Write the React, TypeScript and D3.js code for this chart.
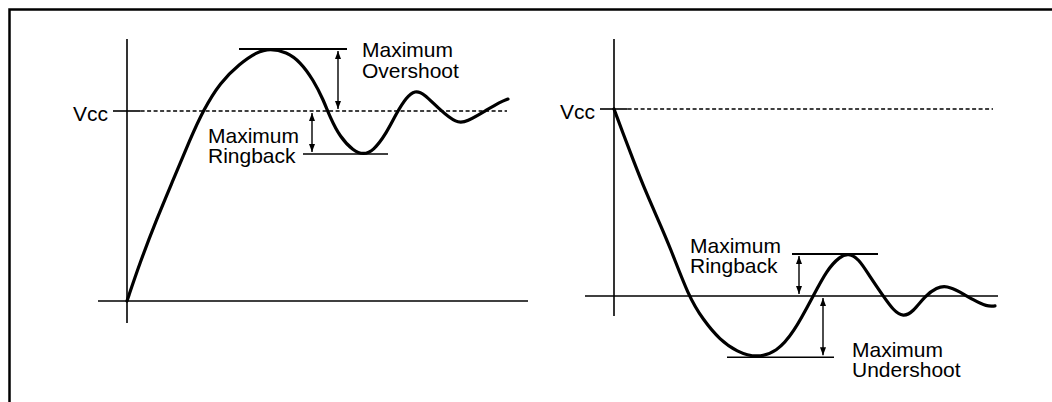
import { useEffect } from 'react';
import * as d3 from 'd3';

// Waveforms: [time, voltage normalised to Vcc]
const overshootWave: [number, number][] = [
  [0, 0], [3.2, 0.2], [7.4, 0.43], [11.6, 0.64], [15.75, 0.85], [19.1, 1.005],
  [23.25, 1.15], [28.25, 1.25], [32.4, 1.31], [35.75, 1.33], [39.9, 1.31],
  [43.25, 1.26], [46.6, 1.163], [49.1, 1.058], [50.75, 0.968], [53.25, 0.863],
  [56.6, 0.79], [59.1, 0.77], [61.6, 0.79], [64.9, 0.884], [67.4, 0.99],
  [69.9, 1.074], [72, 1.108], [74.1, 1.095], [78.25, 1.005], [82.4, 0.935],
  [84.9, 0.942], [89.9, 1.005], [93.25, 1.047], [95.25, 1.063],
];

const undershootWave: [number, number][] = [
  [0, 1], [2.3, 0.868], [4.8, 0.727], [7.75, 0.567], [10.7, 0.424], [14, 0.263],
  [18.6, 0], [22.3, -0.128], [26.5, -0.235], [30.7, -0.298], [35.7, -0.332],
  [40.7, -0.298], [44.8, -0.2], [49.8, 0], [53.2, 0.139], [56.5, 0.212],
  [58.6, 0.228], [61.1, 0.202], [64, 0.103], [67.3, 0], [69.8, -0.076],
  [72.3, -0.113], [74.8, -0.084], [77.75, 0], [80.7, 0.046], [83.2, 0.055],
  [86.5, 0.022], [89.8, -0.021], [93.2, -0.057], [95.25, -0.053],
];

// limit lines with their measuring arrows
const overshootMarks = [
  { level: 1.326, from: 28, to: 55, arrowT: 52.75, arrowTo: 1, width: 2 },
  { level: 0.774, from: 44, to: 65.25, arrowT: 46.25, arrowTo: 1, width: 1.5 },
];
const undershootMarks = [
  { level: 0.225, from: 44.5, to: 66, arrowT: 46.25, arrowTo: 0, width: 2 },
  { level: -0.328, from: 28.25, to: 55, arrowT: 52.25, arrowTo: 0, width: 1.5 },
];

const overshootLabels = [
  { lines: ['Maximum', 'Overshoot'], t: 58.75, v: 1.284 },
  { lines: ['Maximum', 'Ringback'], t: 20.25, v: 0.832 },
];
const undershootLabels = [
  { lines: ['Maximum', 'Ringback'], t: 19, v: 0.23 },
  { lines: ['Maximum', 'Undershoot'], t: 59.5, v: -0.326 },
];

const FONT = '"Liberation Sans", Arial, sans-serif';
const FS = 21;

interface PanelProps {
  wave: [number, number][];
  marks: typeof overshootMarks;
  labels: typeof overshootLabels;
  x0: number;
  yGnd: number;
  yVcc: number;
  axisTop: number;
  axisBottom: number;
  axisLeft: number;
  axisRight: number;
  dashEnd: number;
}

function Panel(p: PanelProps) {
  const x = d3.scaleLinear().domain([0, 100]).range([p.x0, p.x0 + 400]);
  const y = d3.scaleLinear().domain([0, 1]).range([p.yGnd, p.yVcc]);
  // basis smooths out reading noise in the traced points
  const line = d3.line<[number, number]>()
    .x(d => x(d[0]))
    .y(d => y(d[1]))
    .curve(d3.curveBasis);

  return (
    <g>
      {/* axes */}
      <line x1={x(0)} x2={x(0)} y1={p.axisTop} y2={p.axisBottom} stroke="#000" strokeWidth={1.6} />
      <line x1={p.axisLeft} x2={p.axisRight} y1={y(0)} y2={y(0)} stroke="#000" strokeWidth={1.6} />
      {/* Vcc */}
      <line x1={x(-3.5)} x2={x(3.4)} y1={y(1)} y2={y(1)} stroke="#000" strokeWidth={1.6} />
      <line x1={x(3.4)} x2={p.dashEnd} y1={y(1)} y2={y(1)} stroke="#000" strokeWidth={1.5} strokeDasharray="4,2.5" />
      <text x={x(-4.75)} y={y(1) + 10} textAnchor="end" fontSize={FS} fontFamily={FONT}>Vcc</text>

      <path d={line(p.wave) ?? ''} fill="none" stroke="#000" strokeWidth={3.2} strokeLinejoin="round" strokeLinecap="round" />

      {p.marks.map((m, i) => (
        <g key={i}>
          <line x1={x(m.from)} x2={x(m.to)} y1={y(m.level)} y2={y(m.level)} stroke="#000" strokeWidth={m.width} />
          <line x1={x(m.arrowT)} x2={x(m.arrowT)}
            y1={y(m.level) + (m.level > m.arrowTo ? 2 : -2)}
            y2={y(m.arrowTo) + (m.level > m.arrowTo ? -2 : 2)}
            stroke="#000" strokeWidth={1.4} markerStart="url(#ah)" markerEnd="url(#ah)" />
        </g>
      ))}

      {p.labels.map((l, i) =>
        l.lines.map((s, j) => (
          <text key={`${i}-${j}`} x={x(l.t)} y={y(l.v) + j * 20.5} fontSize={FS} fontFamily={FONT}>{s}</text>
        ))
      )}
    </g>
  );
}

export default function App() {
  useEffect(() => {
    document.body.style.margin = '0';
  }, []);

  return (
    <svg width={1052} height={402} style={{ display: 'block', background: '#fff' }}>
      <defs>
        <marker id="ah" viewBox="0 0 8 6" refX={8} refY={3} markerWidth={8} markerHeight={6}
          markerUnits="userSpaceOnUse" orient="auto-start-reverse">
          <path d="M0,0 L8,3 L0,6 z" fill="#000" />
        </marker>
      </defs>
      <rect x={9.5} y={9.5} width={1200} height={600} fill="none" stroke="#000" strokeWidth={2.5} />

      <Panel wave={overshootWave} marks={overshootMarks} labels={overshootLabels}
        x0={127} yGnd={301} yVcc={111} axisTop={39} axisBottom={323}
        axisLeft={98} axisRight={528} dashEnd={507} />
      <Panel wave={undershootWave} marks={undershootMarks} labels={undershootLabels}
        x0={614} yGnd={296} yVcc={109} axisTop={39} axisBottom={316}
        axisLeft={585} axisRight={998} dashEnd={993} />
    </svg>
  );
}
